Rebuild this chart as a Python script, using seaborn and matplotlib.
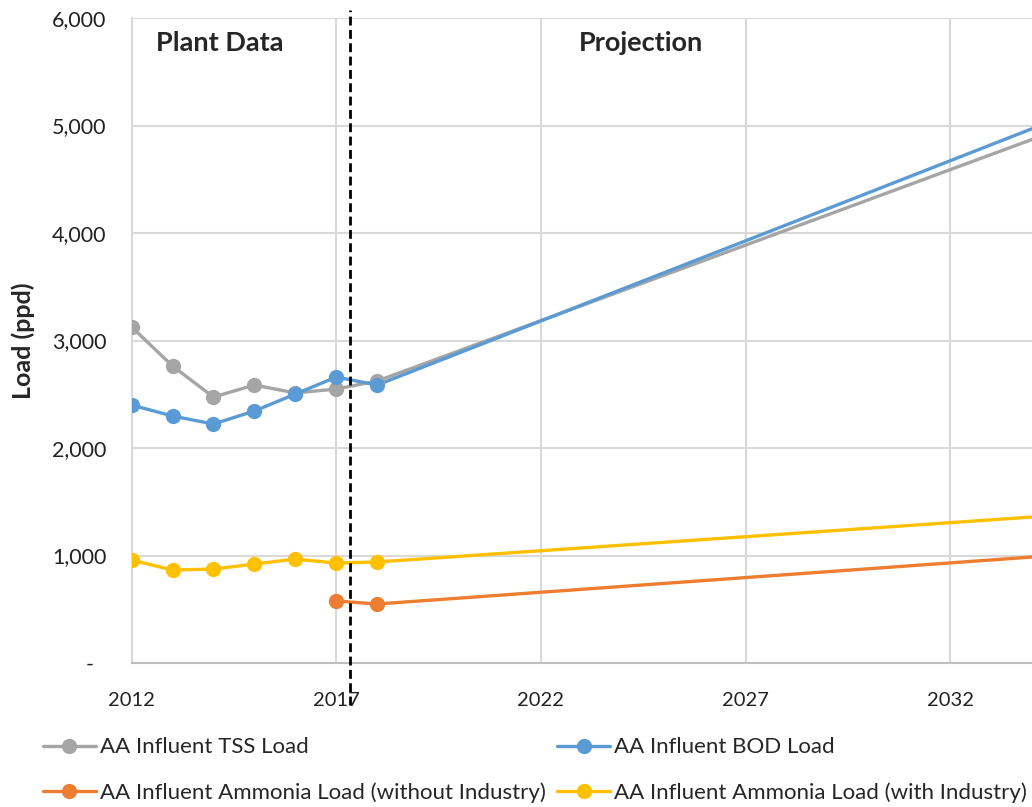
import matplotlib
matplotlib.use("Agg")
import matplotlib.pyplot as plt
import matplotlib.transforms as mtransforms
import seaborn as sns
import pandas as pd

# Measured plant data (ppd)
years_hist = [2012, 2013, 2014, 2015, 2016, 2017, 2018]
tss_hist = [3126, 2763, 2474, 2586, 2512, 2549, 2623]
bod_hist = [2400, 2298, 2223, 2344, 2502, 2660, 2586]
nh3_ind_hist = [958, 865, 874, 921, 967, 930, 940]
years_noind = [2017, 2018]
nh3_noind_hist = [577, 549]

# Linear projections from the last measured year
years_proj = [2018, 2034]
tss_proj = [2623, 4870]
bod_proj = [2586, 4970]
nh3_ind_proj = [940, 1358]
nh3_noind_proj = [549, 986]

labels = [
    "AA Influent TSS Load",
    "AA Influent BOD Load",
    "AA Influent Ammonia Load (without Industry)",
    "AA Influent Ammonia Load (with Industry)",
]
colors = ["#A5A5A5", "#5B9BD5", "#ED7D31", "#FFC000"]
y_ticks = [0, 1000, 2000, 3000, 4000, 5000, 6000]
y_tick_labels = ["-", "1,000", "2,000", "3,000", "4,000", "5,000", "6,000"]
x_ticks = [2012, 2017, 2022, 2027, 2032]

sns.set_style("white")
plt.rcParams["font.family"] = ["Lato", "DejaVu Sans"]

fig = plt.figure(figsize=(10.32, 8.07), dpi=100)
ax = fig.add_axes([0.1275, 0.1784, 0.8725, 0.7993])

hist = pd.concat([
    pd.DataFrame({"year": years_hist, "load": tss_hist, "series": labels[0]}),
    pd.DataFrame({"year": years_hist, "load": bod_hist, "series": labels[1]}),
    pd.DataFrame({"year": years_noind, "load": nh3_noind_hist, "series": labels[2]}),
    pd.DataFrame({"year": years_hist, "load": nh3_ind_hist, "series": labels[3]}),
])
proj = pd.concat([
    pd.DataFrame({"year": years_proj, "load": tss_proj, "series": labels[0]}),
    pd.DataFrame({"year": years_proj, "load": bod_proj, "series": labels[1]}),
    pd.DataFrame({"year": years_proj, "load": nh3_noind_proj, "series": labels[2]}),
    pd.DataFrame({"year": years_proj, "load": nh3_ind_proj, "series": labels[3]}),
])
palette = dict(zip(labels, colors))

# draw series back to front so grey sits beneath blue
draw_order = [labels[3], labels[2], labels[0], labels[1]]
for lab in draw_order:
    sns.lineplot(data=proj[proj.series == lab], x="year", y="load", color=palette[lab],
                 linewidth=2.4, ax=ax, legend=False, zorder=3)
    sns.lineplot(data=hist[hist.series == lab], x="year", y="load", color=palette[lab],
                 linewidth=2.4, marker="o", markersize=11, markeredgewidth=0,
                 ax=ax, legend=False, zorder=4)

ax.set_xlim(2012, 2034)
ax.set_ylim(0, 6000)
ax.set_xticks(x_ticks)
ax.set_xticklabels([str(x) for x in x_ticks], fontsize=14.5)
ax.set_yticks(y_ticks)
ax.set_yticklabels(y_tick_labels, fontsize=15.5)
ax.tick_params(axis="both", length=0, colors="#222222")
ax.tick_params(axis="x", pad=20.5)
ax.tick_params(axis="y", pad=18)
# accounting-style dash for zero sits a little left of the figures
dash_label = ax.get_yticklabels()[0]
dash_label.set_transform(dash_label.get_transform() +
                         mtransforms.ScaledTranslation(-9.5 / 72, 0, fig.dpi_scale_trans))
ax.grid(True, color="#D9D9D9", linewidth=1.5)
ax.set_axisbelow(True)
for side in ["top", "right"]:
    ax.spines[side].set_visible(False)
ax.spines["left"].set_color("#D9D9D9")
ax.spines["left"].set_linewidth(1.5)
ax.spines["bottom"].set_color("#BFBFBF")
ax.spines["bottom"].set_linewidth(1.5)
ax.set_xlabel("")
ax.set_ylabel("Load (ppd)", fontsize=18, fontweight="bold", labelpad=12)

# boundary between measured data and projection
ax.axvline(2017.33, ymin=-0.065, ymax=1.013, color="black", linewidth=2,
           linestyle=(0, (3.2, 1.6)), clip_on=False, zorder=5)

ax.text(2014.16, 5767, "Plant Data", fontsize=19.5, fontweight="bold", ha="center", va="center")
ax.text(2024.44, 5767, "Projection", fontsize=19.5, fontweight="bold", ha="center", va="center")

handles = []
for lab in [labels[0], labels[2], labels[1], labels[3]]:
    h, = ax.plot([], [], color=palette[lab], linewidth=2.4, marker="o",
                 markersize=11, markeredgewidth=0)
    handles.append(h)
fig.legend(handles, [labels[0], labels[2], labels[1], labels[3]],
           loc="lower left", bbox_to_anchor=(0.022, -0.0196), ncol=2, frameon=False,
           fontsize=16, handlelength=2.4, handletextpad=0.18, columnspacing=0.5,
           labelspacing=1.12)

fig.savefig("out.png", dpi=100)
